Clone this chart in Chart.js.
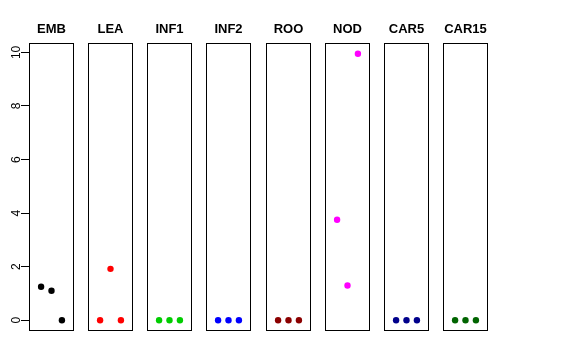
<!DOCTYPE html>
<html>
<head>
<meta charset="utf-8">
<script src="https://cdn.jsdelivr.net/npm/chart.js@4.4.1/dist/chart.umd.min.js"></script>
<style>
  body { margin: 0; background: #fff; }
  #wrap { position: relative; width: 576px; height: 360px; }
  #wrap canvas { position: absolute; left: 0; top: 0; }
</style>
</head>
<body>
<div id="wrap"></div>
<script>
// panel names and colours
var panelNames = ["EMB", "LEA", "INF1", "INF2", "ROO", "NOD", "CAR5", "CAR15"];
var panelColors = ["#000000", "#FF0000", "#00CD00", "#0000FF", "#8B0000", "#FF00FF", "#00008B", "#006400"];

// x positions of the three points in every panel
var xPos = [1, 2, 3];

// values per panel
var emb = [1.25, 1.1, 0];
var lea = [0, 1.92, 0];
var inf1 = [0, 0, 0];
var inf2 = [0, 0, 0];
var roo = [0, 0, 0];
var nod = [3.75, 1.3, 9.95];
var car5 = [0, 0, 0];
var car15 = [0, 0, 0];
var allValues = [emb, lea, inf1, inf2, roo, nod, car5, car15];

// y axis ticks
var yTicks = [0, 2, 4, 6, 8, 10];

Chart.defaults.font.family = "'Liberation Sans', Arial, sans-serif";
Chart.defaults.color = "#000";

// draws the box around each panel
var boxPlugin = {
    id: "box",
    afterDraw: function (chart) {
        var a = chart.chartArea;
        var c = chart.ctx;
        c.save();
        c.strokeStyle = "#000";
        c.lineWidth = 1;
        var l = Math.round(a.left) + 0.5, r = Math.round(a.right) - 0.5;
        var t = Math.round(a.top) + 0.5, b = Math.round(a.bottom) - 0.5;
        c.strokeRect(l, t, r - l, b - t);
        c.restore();
    }
};

var wrap = document.getElementById("wrap");
var axisWidth = 29;
var panelStep = 59.14;
var panelWidth = 45;

panelNames.forEach(function (name, i) {
    var cv = document.createElement("canvas");
    cv.width = 576;
    cv.height = 360;
    wrap.appendChild(cv);

    var left = Math.round(29 + panelStep * i);
    var first = i === 0;

    var points = xPos.map(function (x, k) {
        return { x: x, y: allValues[i][k] };
    });

    new Chart(cv.getContext("2d"), {
        type: "scatter",
        data: {
            datasets: [
                {
                    data: points,
                    backgroundColor: panelColors[i],
                    borderColor: panelColors[i],
                    pointRadius: 3.2,
                    pointBorderWidth: 0,
                },
            ],
        },
        options: {
            responsive: false,
            animation: false,
            events: [],
            layout: {
                padding: {
                    left: first ? 0 : left,
                    right: 576 - left - panelWidth,
                    top: 0,
                    bottom: 29,
                },
            },
            plugins: {
                legend: { display: false },
                tooltip: { enabled: false },
                title: {
                    display: true,
                    text: name,
                    fullSize: false,
                    font: { size: 13, weight: "bold" },
                    padding: { top: 22, bottom: 5.4 },
                },
            },
            scales: {
                x: {
                    type: "linear",
                    display: false,
                    min: -0.16,
                    max: 4.16,
                },
                y: {
                    type: "linear",
                    display: first,
                    min: -0.4,
                    max: 10.35,
                    afterFit: function (s) { if (first) s.width = axisWidth; },
                    afterBuildTicks: function (s) {
                        s.ticks = yTicks.map(function (v) { return { value: v }; });
                    },
                    border: { display: false },
                    grid: {
                        drawOnChartArea: false,
                        drawTicks: true,
                        tickLength: 8,
                        color: "#000",
                    },
                    ticks: {
                        minRotation: 90,
                        maxRotation: 90,
                        crossAlign: "center",
                        padding: -2,
                        font: { size: 12 },
                    },
                },
            },
        },
        plugins: [boxPlugin],
    });
});
</script>
</body>
</html>
